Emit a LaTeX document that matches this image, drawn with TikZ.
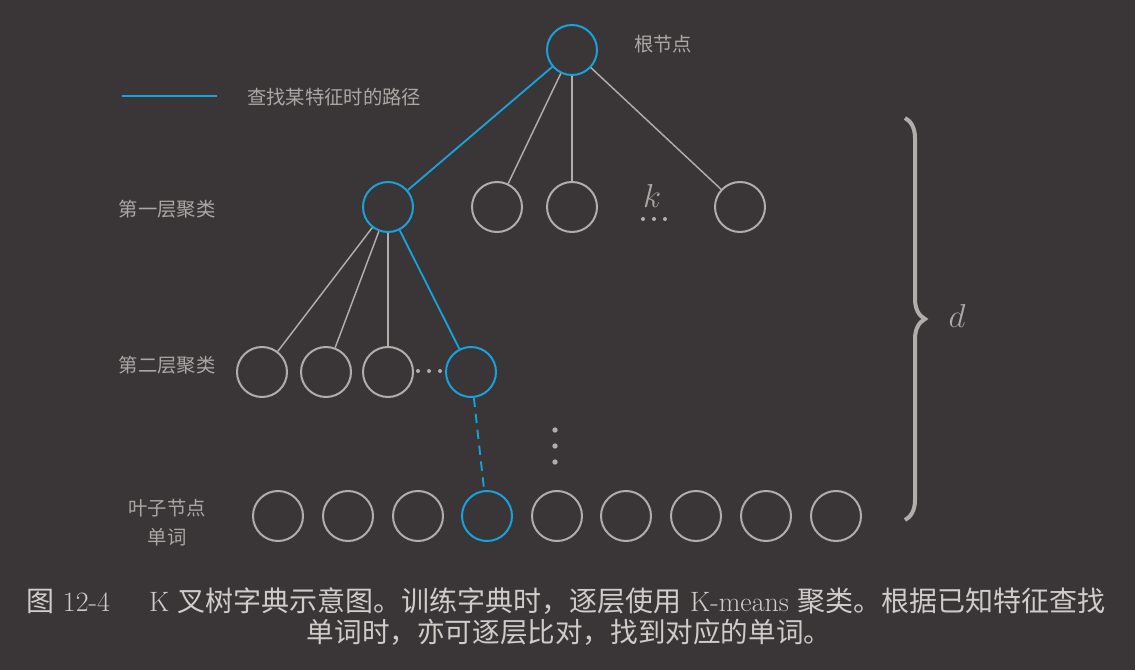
\documentclass[tikz,border=0pt]{standalone}
\usepackage{fontspec}
\newfontfamily\cjk{Noto Sans CJK SC}
\usetikzlibrary{decorations.pathreplacing}
\definecolor{bg}{HTML}{3A3537}
\definecolor{gr}{HTML}{B0AEAB}
\definecolor{bl}{HTML}{18A2DA}
\definecolor{lbl}{HTML}{AAA8A5}
\definecolor{cap}{HTML}{CFCDCA}
\tikzset{
  nd/.style={circle,draw=gr,line width=1.5pt,minimum size=37.5pt,inner sep=0pt},
  bnd/.style={nd,draw=bl},
  ge/.style={draw=gr,line width=1.1pt},
  be/.style={draw=bl,line width=1.4pt},
  lab/.style={text=lbl,font=\cjk\fontsize{14.5}{18}\selectfont},
  dt/.style={circle,fill=gr,inner sep=0pt,minimum size=#1},
}
\begin{document}
\begin{tikzpicture}[x=0.75pt,y=-0.75pt]
\fill[bg] (0,0) rectangle (1135,670);
\useasboundingbox (0,0) rectangle (1135,670);
% root
\node[bnd] (r) at (572,50) {};
\node[lab] (rl) at (663,44) {根节点};
% legend
\coordinate (la) at (122,96);
\coordinate (lb) at (217,96);
\draw[be] (la) -- (lb);
\node[lab] (lt) at (334,97) {查找某特征时的路径};
% level 1
\node[bnd] (a1) at (388,207) {};
\node[nd] (a2) at (497,207) {};
\node[nd] (a3) at (572,207) {};
\node[nd] (a4) at (740,207) {};
\node[dt=3pt] (ad1) at (643,219) {};
\node[dt=3pt] (ad2) at (654,219) {};
\node[dt=3pt] (ad3) at (665,219) {};
\node[text=lbl,font=\fontsize{24}{28}\selectfont] (k) at (652,196) {$k$};
\node[lab] (l1) at (167,209) {第一层聚类};
\draw[be] (r) -- (a1);
\draw[ge] (r) -- (a2);
\draw[ge] (r) -- (a3);
\draw[ge] (r) -- (a4);
% level 2
\node[nd] (b1) at (262,372) {};
\node[nd] (b2) at (326,372) {};
\node[nd] (b3) at (388,372) {};
\node[bnd] (b4) at (471,372) {};
\node[dt=3pt] (bd1) at (418,371) {};
\node[dt=3pt] (bd2) at (429,371) {};
\node[dt=3pt] (bd3) at (440,371) {};
\node[lab] (l2) at (167,365) {第二层聚类};
\draw[ge] (a1) -- (b1);
\draw[ge] (a1) -- (b2);
\draw[ge] (a1) -- (b3);
\draw[be] (a1) -- (b4);
% vertical dots
\node[dt=4pt] (v1) at (555,430) {};
\node[dt=4pt] (v2) at (555,446) {};
\node[dt=4pt] (v3) at (555,462) {};
% leaves
\foreach \i/\x in {1/278,2/348,3/418,5/557,6/626,7/696,8/766,9/836}
  \node[nd] (c\i) at (\x,516) {};
\node[bnd] (c4) at (487,516) {};
\draw[be,dash pattern=on 7pt off 5pt] (b4) -- (c4);
\node[lab] (l3) at (167,508) {叶子节点};
\node[lab] (l4) at (167,537) {单词};
% brace
\coordinate (bt) at (905,118);
\coordinate (bb) at (905,520);
\draw[gr,line width=3pt,decorate,decoration={brace,amplitude=15pt}] (bt) -- (bb);
\node[text=lbl,font=\fontsize{24}{28}\selectfont] (d) at (957,316) {$d$};
% caption
\node[text=cap,font=\fontsize{21}{26}\selectfont] (cap1) at (566,601)
  {{\cjk 图} 12-4\hspace{1.4em}K {\cjk 叉树字典示意图。训练字典时，逐层使用} K-means {\cjk 聚类。根据已知特征查找}};
\node[text=cap,font=\cjk\fontsize{20.7}{26}\selectfont] (cap2) at (569,632)
  {单词时，亦可逐层比对，找到对应的单词。};
\end{tikzpicture}
\end{document}
